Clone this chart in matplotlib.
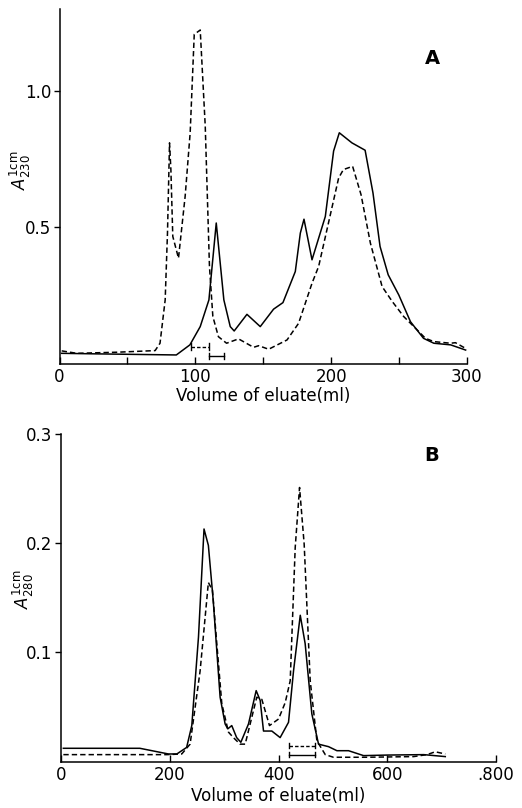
import matplotlib
matplotlib.use("Agg")
import matplotlib.pyplot as plt

# Panel A data (A230)
a_solid_x = [1.6, 27, 86, 96, 103.6, 110, 115.4, 121, 125.7, 128.6, 138, 147.8, 157.6, 164.5,
             173.6, 177.3, 180, 185.9, 195.7, 201.8, 206, 215.3, 225, 230.8, 236, 242, 249.8,
             258.4, 268, 275.6, 288, 299]
a_solid_y = [0.038, 0.036, 0.032, 0.069, 0.136, 0.234, 0.516, 0.234, 0.136, 0.12, 0.181, 0.136,
             0.20, 0.224, 0.338, 0.479, 0.53, 0.381, 0.54, 0.78, 0.847, 0.81, 0.783, 0.626, 0.43,
             0.326, 0.252, 0.154, 0.093, 0.075, 0.069, 0.05]
a_dash_x = [1.6, 12.7, 42, 70.4, 74, 77.8, 79.5, 81, 82, 83.4, 87.6, 92.5, 96.2, 99.2, 103.6,
            107.3, 110.4, 112.9, 117, 123, 131.8, 142.9, 146.6, 154, 167.5, 176, 185.9, 190.8,
            205.5, 209, 215.8, 222, 228.9, 237.5, 245, 253.4, 264.5, 269.4, 275.6, 288, 291.5, 299]
a_dash_y = [0.047, 0.038, 0.042, 0.048, 0.075, 0.234, 0.48, 0.81, 0.712, 0.467, 0.387, 0.614,
            0.847, 1.208, 1.224, 0.871, 0.357, 0.173, 0.099, 0.075, 0.091, 0.06, 0.066, 0.053,
            0.087, 0.148, 0.295, 0.357, 0.681, 0.712, 0.724, 0.62, 0.442, 0.283, 0.228, 0.173,
            0.118, 0.093, 0.081, 0.075, 0.077, 0.056]
a_frac_dash = [96.7, 109.7, 0.0625]
a_frac_solid = [110.4, 121.3, 0.028]

# Panel B data (A280)
b_solid_x = [4.3, 145, 197.5, 213, 231, 240.5, 252.8, 263, 271, 280, 292.6, 301.8, 306.7, 314,
             323, 330.7, 344.8, 358.9, 366.3, 372.4, 387.7, 403, 418.4, 427.6, 440, 449, 461.3,
             473.6, 492, 507.4, 528.8, 556.4, 599.4, 667, 706.7]
b_solid_y = [0.0122, 0.0122, 0.007, 0.007, 0.013, 0.033, 0.114, 0.213, 0.198, 0.147, 0.059,
             0.0345, 0.030, 0.033, 0.022, 0.0177, 0.0345, 0.065, 0.056, 0.028, 0.028, 0.022,
             0.036, 0.083, 0.134, 0.108, 0.0437, 0.016, 0.0137, 0.010, 0.010, 0.0055, 0.006,
             0.0064, 0.0046]
b_dash_x = [4.3, 194.5, 222, 237.4, 255.8, 271, 278.5, 286.5, 295.7, 308, 317, 329.4, 338.7,
            360, 369.3, 383.4, 400, 412.3, 421.5, 430.7, 438.7, 447.2, 458.3, 470.6, 486, 501,
            562.6, 648.5, 673, 688.3, 706.7]
b_dash_y = [0.0064, 0.0064, 0.007, 0.016, 0.083, 0.164, 0.157, 0.108, 0.053, 0.027, 0.022,
            0.016, 0.016, 0.059, 0.057, 0.033, 0.039, 0.054, 0.074, 0.196, 0.251, 0.199, 0.074,
            0.019, 0.0064, 0.004, 0.004, 0.0046, 0.0064, 0.009, 0.007]
b_frac_dash = [419.6, 466.3, 0.0147]
b_frac_solid = [419.6, 466.3, 0.0064]

a_ticks = [0, 50, 100, 150, 200, 250, 300]
a_ticklabels = ["0", "", "100", "", "200", "", "300"]
a_yticks = [0.5, 1.0]
a_yticklabels = ["0.5", "1.0"]
b_ticks = [0, 200, 400, 600, 800]
b_ticklabels = ["0", "200", "400", "600", ".800"]
b_yticks = [0.1, 0.2, 0.3]
b_yticklabels = ["0.1", "0.2", "0.3"]

plt.rcParams['font.family'] = ['DejaVu Sans']
fig = plt.figure(figsize=(5.22, 8.08), dpi=100)
axA = fig.add_axes([0.114, 0.5499, 0.7806, 0.4386])
axB = fig.add_axes([0.1169, 0.0574, 0.8333, 0.4055])

DASH = (0, (3.5, 2.0))
FS = 12

def frac_bar(ax, spec, ls, cap):
    x0, x1, y = spec
    ax.plot([x0, x1], [y, y], color='black', lw=1.0, linestyle=ls)
    ax.plot([x0, x0], [y - cap, y + cap], color='black', lw=1.0)
    ax.plot([x1, x1], [y - cap, y + cap], color='black', lw=1.0)

# Panel A
axA.plot(a_solid_x, a_solid_y, color='black', lw=1.1)
axA.plot(a_dash_x, a_dash_y, color='black', lw=1.1, linestyle=DASH)
frac_bar(axA, a_frac_dash, (0, (2.5, 1.5)), 0.012)
frac_bar(axA, a_frac_solid, '-', 0.012)
axA.set_xlim(0, 300)
axA.set_ylim(0, 1.30)
axA.set_xticks(a_ticks)
axA.set_xticklabels(a_ticklabels, fontsize=FS)
axA.set_yticks(a_yticks)
axA.set_yticklabels(a_yticklabels, fontsize=FS)
axA.set_xlabel("Volume of eluate(ml)", fontsize=FS, labelpad=1)
axA.set_ylabel(r"$A^{\mathrm{1cm}}_{230}$", fontsize=FS)
axA.yaxis.set_label_coords(-0.065, 0.547)
axA.text(0.915, 0.862, "A", transform=axA.transAxes, fontsize=14, fontweight='bold',
         ha='center', va='center')

# Panel B
axB.plot(b_solid_x, b_solid_y, color='black', lw=1.1)
axB.plot(b_dash_x, b_dash_y, color='black', lw=1.1, linestyle=DASH)
frac_bar(axB, b_frac_dash, (0, (2.5, 1.5)), 0.0025)
frac_bar(axB, b_frac_solid, '-', 0.0025)
axB.set_xlim(0, 800)
axB.set_ylim(0, 0.3)
axB.set_xticks(b_ticks)
axB.set_xticklabels(b_ticklabels, fontsize=FS)
axB.set_yticks(b_yticks)
axB.set_yticklabels(b_yticklabels, fontsize=FS)
axB.set_xlabel("Volume of eluate(ml)", fontsize=FS, labelpad=2)
axB.set_ylabel(r"$A^{\mathrm{1cm}}_{280}$", fontsize=FS)
axB.yaxis.set_label_coords(-0.057, 0.527)
axB.text(0.852, 0.935, "B", transform=axB.transAxes, fontsize=14, fontweight='bold',
         ha='center', va='center')

for ax in (axA, axB):
    ax.spines['top'].set_visible(False)
    ax.spines['right'].set_visible(False)
    ax.spines['left'].set_linewidth(1.1)
    ax.spines['bottom'].set_linewidth(1.1)
    ax.tick_params(axis='x', direction='in', length=5, width=1.0, pad=3)
    ax.tick_params(axis='y', direction='out', length=4, width=1.0, pad=2)

fig.savefig("out.png", dpi=100, facecolor='white')
